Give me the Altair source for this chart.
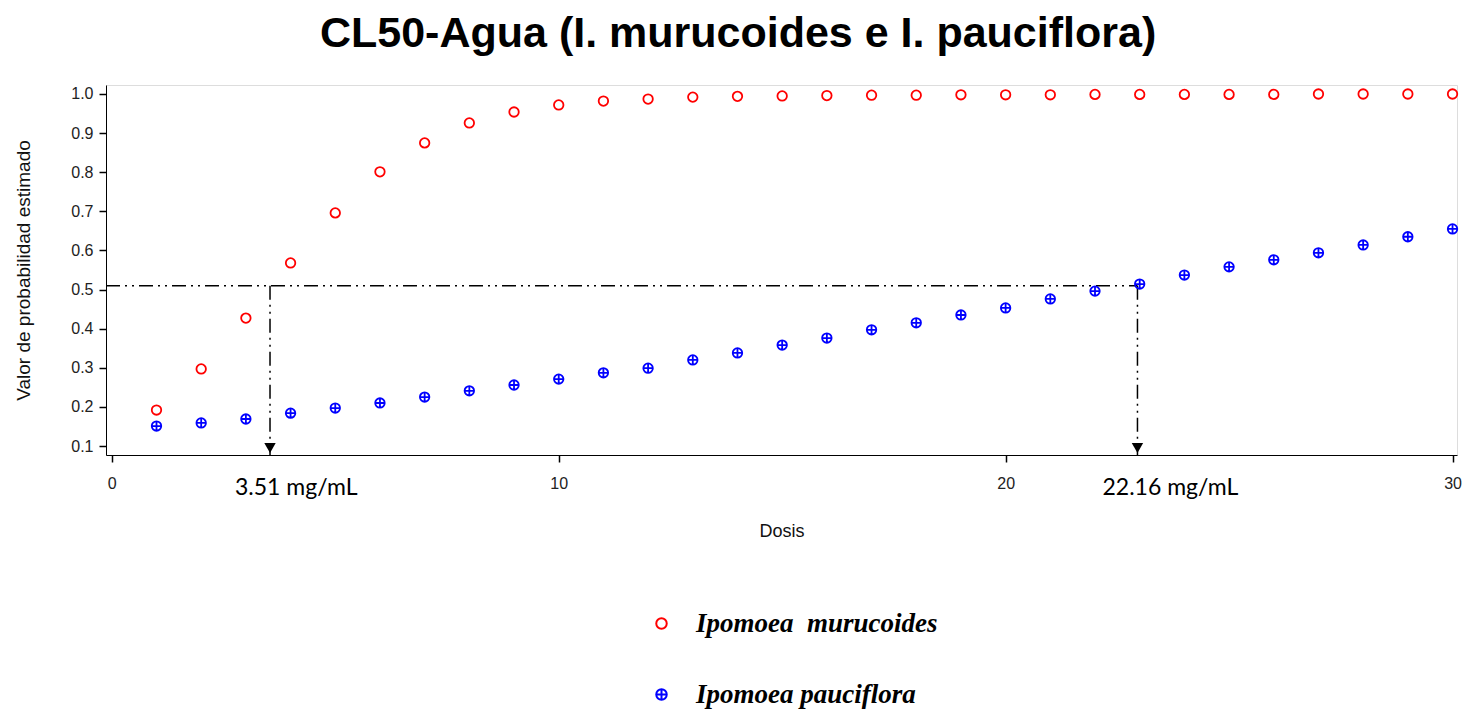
import altair as alt
import pandas as pd

dosis = list(range(1, 31))
murucoides = [0.192, 0.297, 0.427, 0.568, 0.696, 0.801, 0.875, 0.926, 0.954, 0.972,
              0.982, 0.987, 0.992, 0.994, 0.995, 0.996, 0.997, 0.997, 0.998, 0.998,
              0.998, 0.999, 0.999, 0.999, 0.999, 0.999, 1.0, 1.0, 1.0, 1.0]
pauciflora = [0.151, 0.159, 0.169, 0.184, 0.197, 0.210, 0.225, 0.241, 0.256, 0.271,
              0.287, 0.299, 0.320, 0.338, 0.358, 0.376, 0.397, 0.415, 0.435, 0.453,
              0.476, 0.496, 0.514, 0.537, 0.558, 0.576, 0.594, 0.614, 0.635, 0.655]
species = ["Ipomoea\u00a0 murucoides", "Ipomoea pauciflora"]
# drawn positions of the LC50 guide lines (as they appear in the figure) and their labels
lc50_drawn = [3.54, 22.95]
lc50_labels = ["3.51 mg/mL", "22.16 mg/mL"]
level = 0.51

YMIN, YMAX = 0.077, 1.023
XMIN, XMAX = -0.13, 30.1

rows = []
for d, a, b in zip(dosis, murucoides, pauciflora):
    rows.append({"Dosis": d, "p": a, "sp": species[0]})
    rows.append({"Dosis": d, "p": b, "sp": species[1]})
df = pd.DataFrame(rows)

ann = pd.DataFrame({"x": lc50_drawn, "label": lc50_labels, "lvl": [level, level],
                    "ymin": [YMIN, YMIN], "x0": [XMIN, XMIN]})

cross_circle = "M-1,0A1,1 0 1,0 1,0A1,1 0 1,0 -1,0ZM-1,0L1,0M0,-1L0,1"

xscale = alt.Scale(domain=[XMIN, XMAX], nice=False, zero=False)
yscale = alt.Scale(domain=[YMIN, YMAX], nice=False, zero=False)

axis_common = dict(grid=False, tickSize=7, labelFontSize=16, titleFontWeight="normal",
                   labelColor="#222", titleColor="#111",
                   domainColor="black", tickColor="black", tickWidth=1.5,
                   labelFont="Liberation Sans", titleFont="Liberation Sans")

points = alt.Chart(df).mark_point(filled=False, strokeWidth=1.8, size=90, opacity=1).encode(
    x=alt.X("Dosis:Q", scale=xscale,
            axis=alt.Axis(values=[0, 10, 20, 30], title="Dosis", labelPadding=13,
                          titleFontSize=18, titlePadding=31, **axis_common)),
    y=alt.Y("p:Q", scale=yscale,
            axis=alt.Axis(values=[0.1, 0.2, 0.3, 0.4, 0.5, 0.6, 0.7, 0.8, 0.9, 1.0],
                          format=".1f", title="Valor de probabilidad estimado",
                          labelPadding=6, titleFontSize=19, titlePadding=37, **axis_common)),
    color=alt.Color("sp:N", scale=alt.Scale(domain=species, range=["#ff0000", "#0000ff"]),
                    legend=alt.Legend(title=None, orient="none", legendX=542, legendY=525,
                                      labelFont="Liberation Serif", labelFontSize=27,
                                      labelFontStyle="italic", labelFontWeight="bold",
                                      labelColor="black", symbolSize=110, symbolStrokeWidth=2,
                                      rowPadding=43, labelOffset=21, labelLimit=400)),
    shape=alt.Shape("sp:N", scale=alt.Scale(domain=species, range=["circle", cross_circle]),
                    legend=None),
)

dash = [14, 5, 2, 5, 2, 5]
hline = alt.Chart(ann).transform_filter(alt.datum.x > 20).mark_rule(
    color="black", strokeWidth=1.5, strokeDash=dash).encode(
    x="x0:Q", x2="x:Q", y="lvl:Q")

vlines = alt.Chart(ann).mark_rule(
    color="black", strokeWidth=1.5, strokeDash=dash).encode(
    x="x:Q", y="lvl:Q", y2="ymin:Q")

arrows = alt.Chart(ann).mark_point(shape="triangle-down", filled=True, color="black",
                                    size=130, opacity=1, yOffset=-7).encode(
    x="x:Q", y="ymin:Q")

labels = alt.Chart(ann).mark_text(align="left", baseline="middle", dx=-35, dy=33,
                                  font="Lato", fontSize=23, color="black").encode(
    x="x:Q", y="ymin:Q", text="label:N")

chart = alt.layer(hline, vlines, arrows, points, labels).properties(
    width=1351, height=370,
    title=alt.Title("CL50-Agua (I. murucoides e I. pauciflora)", font="Liberation Sans",
                    fontSize=43, fontWeight="bold", color="black", anchor="middle",
                    frame="bounds", offset=29),
    autosize=alt.AutoSizeParams(type="none"),
    padding={"left": 106, "top": 85, "right": 8, "bottom": 256},
).configure_view(stroke="black", strokeWidth=1.8).configure(background="white")

chart.save("out.html", embed_options={"renderer": "svg", "actions": False})
